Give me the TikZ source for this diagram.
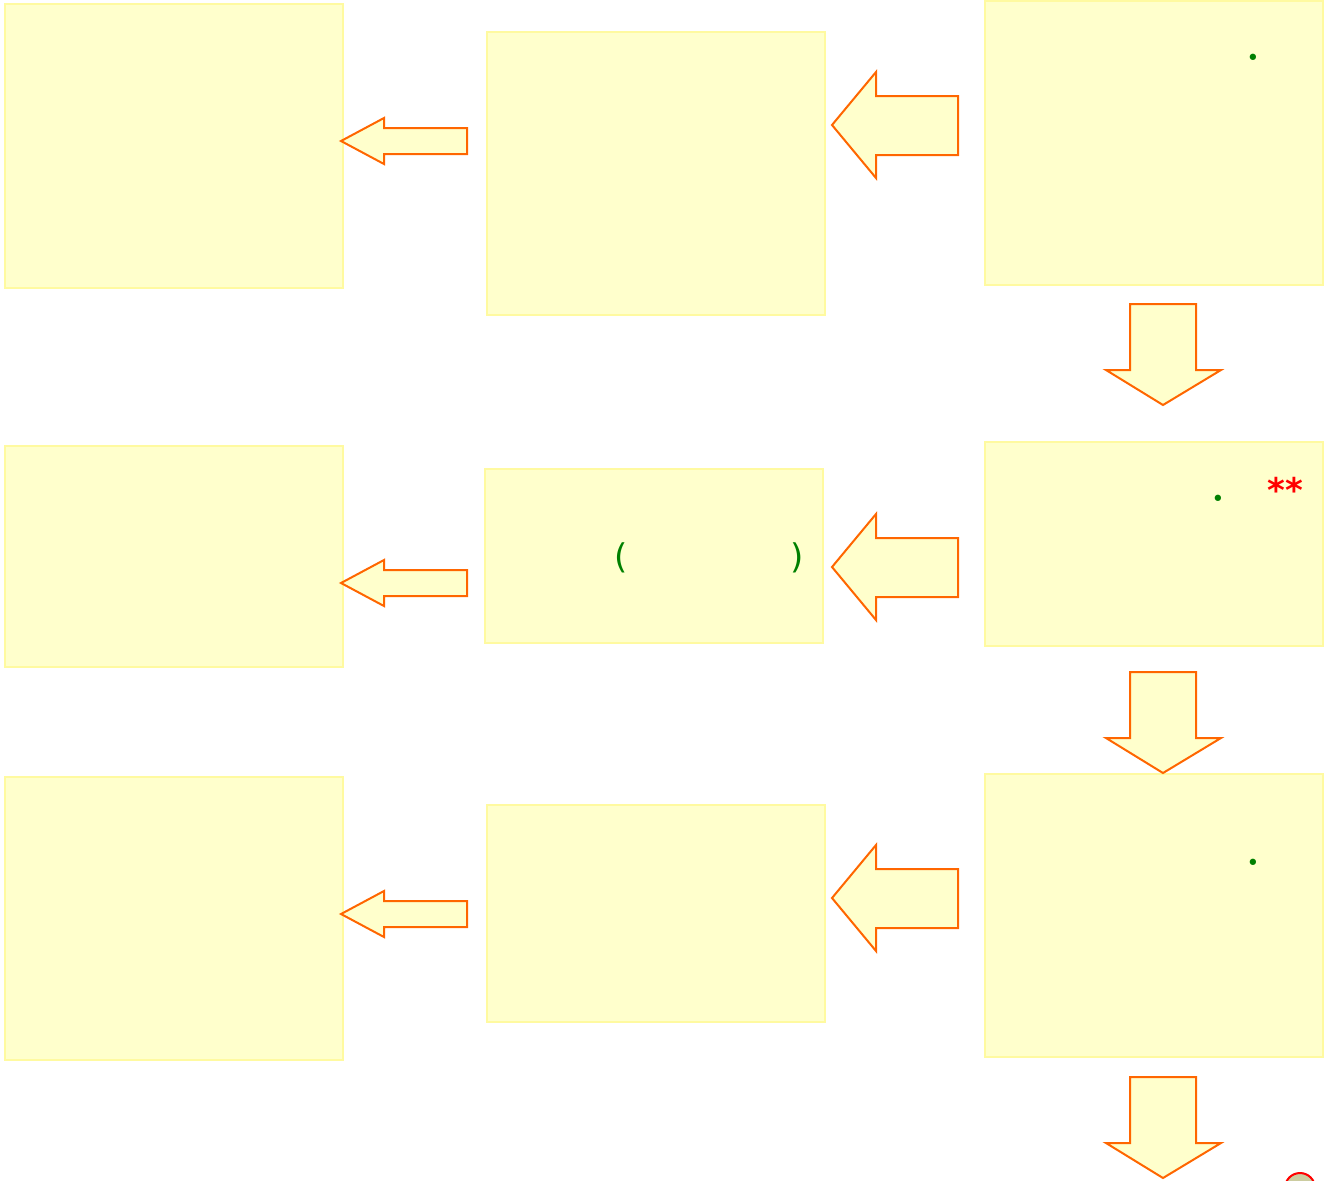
\documentclass[tikz,border=0pt]{standalone}
\usepackage{fontspec}
\newfontfamily\dejavu{DejaVu Sans}
\usetikzlibrary{fit}
\definecolor{boxfill}{RGB}{255,255,204}
\definecolor{boxline}{RGB}{255,250,160}
\definecolor{arrline}{RGB}{255,102,0}
\definecolor{mygreen}{RGB}{0,128,0}
\definecolor{myred}{RGB}{255,0,0}
\definecolor{circfill}{RGB}{204,204,160}
\tikzset{
  box/.style={draw=boxline, fill=boxfill, line width=1pt, inner sep=0pt, rectangle},
  blockarrow/.style={draw=arrline, fill=boxfill, line width=1pt, line join=miter},
  greentext/.style={text=mygreen, inner sep=0pt, font=\dejavu\fontsize{17}{19}\selectfont},
  greendot/.style={text=mygreen, inner sep=0pt, font=\fontsize{22}{24}\selectfont\bfseries},
  redtext/.style={text=myred, inner sep=0pt, font=\dejavu\fontsize{17}{19}\selectfont\bfseries},
}
\newcommand\myBigL[1]{\draw[blockarrow] (832,#1) -- (876,#1-53) -- (876,#1-29) -- (958,#1-29) -- (958,#1+30) -- (876,#1+30) -- (876,#1+53) -- cycle;}
\newcommand\mySmallL[1]{\draw[blockarrow] (341,#1) -- (384,#1-23) -- (384,#1-13) -- (467,#1-13) -- (467,#1+13) -- (384,#1+13) -- (384,#1+23) -- cycle;}
\newcommand\myDown[1]{\draw[blockarrow] (1130,#1) -- (1196,#1) -- (1196,#1+66) -- (1221,#1+66) -- (1163,#1+101) -- (1106,#1+66) -- (1130,#1+66) -- cycle;}
\begin{document}
\begin{tikzpicture}[x=0.5pt,y=-0.5pt]
\useasboundingbox (0,0) rectangle (1334,1180);
\clip (0,0) rectangle (1334,1180);
% boxes
\node[box, fit={(5,4) (343,288)}] (a1) {};
\node[box, fit={(487,32) (825,315)}] (b1) {};
\node[box, fit={(985,1) (1323,285)}] (c1) {};
\node[box, fit={(5,446) (343,667)}] (a2) {};
\node[box, fit={(485,469) (823,643)}] (b2) {};
\node[box, fit={(985,442) (1323,646)}] (c2) {};
\node[box, fit={(5,777) (343,1060)}] (a3) {};
\node[box, fit={(487,805) (825,1022)}] (b3) {};
\node[box, fit={(985,774) (1323,1057)}] (c3) {};
% arrows
\myBigL{125}
\myBigL{567}
\myBigL{898}
\mySmallL{141}
\mySmallL{583}
\mySmallL{914}
\myDown{304}
\myDown{672}
\myDown{1077}
% texts
\node[greendot] (d1) at (1253,57) {.};
\node[greendot] (d2) at (1218,498) {.};
\node[greendot] (d3) at (1253,862) {.};
\node[redtext, anchor=north] (s2) at (1285,477) {**};
\node[greentext] (p1) at (621.5,557.5) {(};
\node[greentext] (p2) at (797,557.5) {)};
% circle
\node[circle, draw=myred, fill=circfill, line width=1pt, minimum size=15pt, inner sep=0pt] (e) at (1300,1188) {};
\end{tikzpicture}
\end{document}
